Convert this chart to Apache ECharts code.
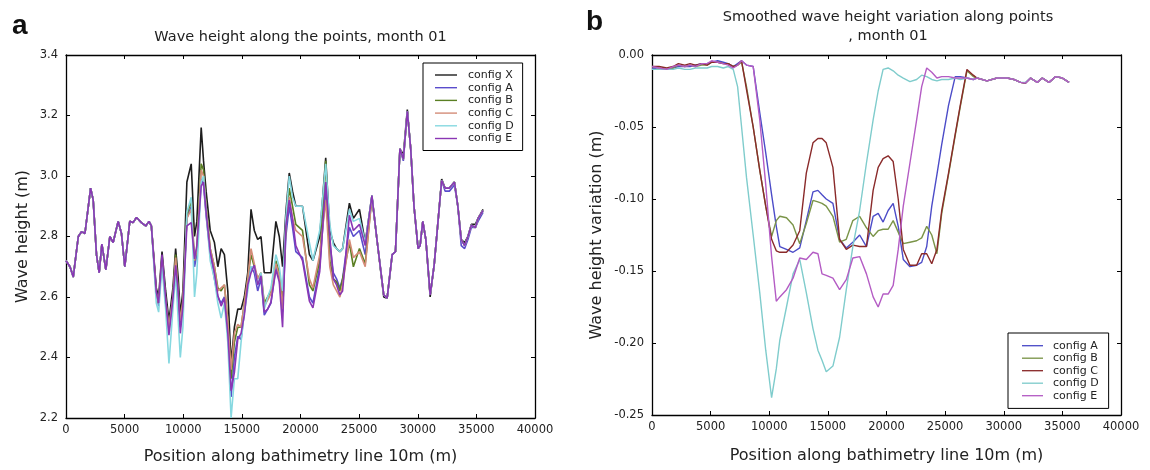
<!DOCTYPE html>
<html>
<head>
<meta charset="utf-8">
<script src="https://cdn.jsdelivr.net/npm/echarts@6/dist/echarts.min.js"></script>
<style>
html,body{margin:0;padding:0;background:#fff;}
#chart{width:1150px;height:470px;}
</style>
</head>
<body>
<div id="chart"></div>
<script>
// ---------- Panel a data ----------
const seriesNames = ['config X','config A','config B','config C','config D','config E'];
const posA = [0,340,620,1050,1330,1615,2100,2320,2600,2830,3060,3400,3740,4020,4450,4730,5015,5440,5720,6010,6430,6800,7080,7280,
7700,7900,8190,8500,8780,9120,9350,9575,9750,9970,10310,10680,10960,11160,11530,11730,11950,12300,12660,12950,13230,13510,13800,14080,14360,14650,14930,15210,15500,15780,16060,16350,16630,16910,17200,17480,17900,18190,18470,18750,19040,19320,19600,20170,
20760,21060,21640,22150,22500,22800,23075,23360,23590,24170,24510,25030,25520,26090,26520,27100,27390,27820,28100,28480,28770,29110,29400,29680,30030,30200,30430,30690,31060,31400,31700,32040,32330,32700,33130,33420,33710,34000,34280,34570,34920,35140,35570];

const aX = [2.72,2.70,2.67,2.80,2.816,2.81,2.96,2.92,2.74,2.68,2.775,2.69,2.80,2.78,2.85,2.81,2.70,2.85,2.846,2.863,2.846,2.835,2.85,2.835,
2.63,2.60,2.75,2.62,2.52,2.63,2.76,2.66,2.54,2.62,2.98,3.04,2.80,2.85,3.16,3.05,2.95,2.82,2.78,2.70,2.76,2.74,2.62,2.38,2.50,2.56,2.56,2.60,2.68,2.89,2.82,2.79,2.80,2.68,2.68,2.68,2.85,2.80,2.70,2.88,3.01,2.95,2.90,2.90,
2.74,2.72,2.80,3.06,2.82,2.78,2.76,2.75,2.76,2.91,2.86,2.89,2.78,2.935,
2.79,2.60,2.596,2.74,2.75,3.09,3.07,3.22,3.09,2.90,2.76,2.77,2.85,2.79,2.60,2.706,2.837,2.99,2.96,2.96,2.98,2.90,2.79,2.78,2.80,2.84,2.84,2.86,2.89];

const aA = [2.72,2.70,2.666,2.80,2.816,2.81,2.96,2.92,2.74,2.68,2.775,2.69,2.80,2.78,2.85,2.81,2.70,2.85,2.846,2.863,2.846,2.835,2.85,2.835,
2.62,2.57,2.73,2.58,2.50,2.60,2.72,2.60,2.50,2.58,2.86,2.90,2.70,2.74,2.99,2.97,2.87,2.74,2.66,2.60,2.58,2.60,2.50,2.27,2.40,2.47,2.46,2.55,2.65,2.70,2.68,2.62,2.66,2.54,2.56,2.58,2.70,2.66,2.55,2.80,2.90,2.83,2.75,2.73,
2.60,2.58,2.70,2.96,2.78,2.68,2.66,2.63,2.66,2.83,2.80,2.82,2.74,2.93,
2.79,2.607,2.596,2.74,2.75,3.09,3.05,3.214,3.09,2.90,2.76,2.77,2.85,2.79,2.607,2.706,2.837,2.985,2.95,2.95,2.97,2.90,2.77,2.76,2.79,2.83,2.83,2.85,2.88];

const aB = [2.72,2.70,2.666,2.80,2.816,2.81,2.96,2.92,2.74,2.68,2.775,2.69,2.80,2.78,2.85,2.81,2.70,2.85,2.846,2.863,2.846,2.835,2.85,2.835,
2.61,2.58,2.73,2.59,2.49,2.60,2.74,2.62,2.51,2.58,2.87,2.92,2.72,2.76,3.04,3.02,2.90,2.76,2.70,2.63,2.62,2.64,2.52,2.33,2.45,2.50,2.50,2.58,2.66,2.74,2.70,2.66,2.68,2.58,2.60,2.62,2.72,2.68,2.58,2.83,2.96,2.90,2.84,2.82,
2.64,2.62,2.72,3.05,2.72,2.66,2.65,2.62,2.66,2.78,2.70,2.76,2.71,2.93,
2.79,2.607,2.596,2.74,2.75,3.09,3.056,3.214,3.09,2.90,2.76,2.77,2.85,2.79,2.607,2.706,2.837,2.985,2.96,2.96,2.98,2.90,2.79,2.77,2.80,2.837,2.83,2.86,2.886];

const aC = [2.72,2.70,2.666,2.80,2.816,2.81,2.96,2.92,2.74,2.68,2.775,2.69,2.80,2.78,2.85,2.81,2.70,2.85,2.846,2.863,2.846,2.835,2.85,2.835,
2.61,2.58,2.73,2.59,2.50,2.60,2.73,2.61,2.52,2.59,2.86,2.89,2.72,2.76,3.02,3.00,2.89,2.76,2.70,2.62,2.63,2.64,2.52,2.36,2.48,2.51,2.50,2.58,2.66,2.76,2.71,2.66,2.68,2.57,2.59,2.61,2.71,2.67,2.56,2.84,2.93,2.86,2.82,2.80,
2.66,2.63,2.74,2.92,2.70,2.64,2.62,2.60,2.64,2.79,2.73,2.75,2.70,2.93,
2.79,2.607,2.596,2.74,2.75,3.09,3.056,3.214,3.09,2.90,2.76,2.77,2.85,2.79,2.607,2.706,2.837,2.985,2.96,2.96,2.98,2.90,2.79,2.77,2.80,2.837,2.83,2.86,2.886];

const aD = [2.72,2.70,2.666,2.80,2.816,2.81,2.96,2.92,2.74,2.68,2.775,2.69,2.80,2.78,2.85,2.81,2.70,2.85,2.846,2.863,2.846,2.835,2.85,2.835,
2.58,2.55,2.70,2.56,2.38,2.56,2.68,2.52,2.40,2.50,2.88,2.93,2.60,2.68,2.98,3.00,2.88,2.72,2.66,2.58,2.53,2.58,2.45,2.20,2.33,2.33,2.45,2.55,2.62,2.70,2.70,2.64,2.68,2.56,2.60,2.63,2.74,2.70,2.62,2.86,3.00,2.93,2.90,2.90,
2.78,2.72,2.82,3.04,2.84,2.77,2.76,2.75,2.76,2.89,2.85,2.86,2.78,2.935,
2.79,2.607,2.596,2.74,2.75,3.09,3.056,3.214,3.09,2.90,2.76,2.77,2.85,2.79,2.607,2.706,2.837,2.985,2.96,2.96,2.98,2.90,2.79,2.77,2.80,2.837,2.83,2.86,2.886];

const aE = [2.72,2.70,2.666,2.80,2.816,2.81,2.96,2.92,2.74,2.68,2.775,2.69,2.80,2.78,2.85,2.81,2.70,2.85,2.846,2.863,2.846,2.835,2.85,2.835,
2.616,2.58,2.74,2.595,2.474,2.595,2.705,2.616,2.48,2.57,2.835,2.846,2.726,2.77,2.967,2.98,2.88,2.75,2.68,2.605,2.57,2.595,2.48,2.29,2.35,2.46,2.48,2.54,2.64,2.68,2.705,2.64,2.67,2.55,2.56,2.583,2.69,2.65,2.50,2.835,2.92,2.857,2.77,2.72,
2.586,2.564,2.684,2.98,2.80,2.66,2.64,2.607,2.62,2.87,2.82,2.84,2.77,2.935,
2.79,2.607,2.596,2.74,2.75,3.09,3.056,3.214,3.09,2.90,2.76,2.77,2.85,2.79,2.607,2.706,2.837,2.985,2.96,2.96,2.98,2.90,2.79,2.77,2.80,2.837,2.83,2.86,2.886];

// ---------- Panel b data ----------
const posB = [0,600,1260,1800,2250,2800,3250,3700,4240,4700,
5090,5600,6080,6500,6930,7300,7640,8060,8630,9190,
9700,10200,10600,10900,11470,12030,12600,13160,13730,14150,
14500,14860,15430,16000,16570,17130,17710,18290,18860,19290,
19710,20140,20570,21000,21430,22000,22570,23000,23430,23860,
24300,24710,25290,25860,26290,26860,27400,27710,28570,29430,
30290,30860,31430,31860,32290,32860,33290,33860,34430,35000,
35570];

const bA = [-0.009,-0.010,-0.010,-0.009,-0.008,-0.008,-0.008,-0.007,-0.006,-0.006,
-0.005,-0.004,-0.005,-0.006,-0.008,-0.006,-0.004,-0.007,-0.008,-0.040,
-0.068,-0.097,-0.119,-0.133,-0.135,-0.137,-0.134,-0.115,-0.095,-0.094,
-0.097,-0.100,-0.103,-0.128,-0.134,-0.130,-0.125,-0.133,-0.112,-0.110,
-0.116,-0.108,-0.103,-0.119,-0.142,-0.147,-0.146,-0.144,-0.133,-0.105,
-0.083,-0.062,-0.035,-0.015,-0.015,-0.016,-0.017,-0.016,-0.018,-0.016,
-0.016,-0.017,-0.019,-0.0195,-0.016,-0.019,-0.016,-0.019,-0.015,-0.016,
-0.019];

const bB = [-0.008,-0.009,-0.010,-0.009,-0.007,-0.008,-0.007,-0.008,-0.007,-0.007,
-0.005,-0.005,-0.006,-0.006,-0.008,-0.007,-0.005,-0.022,-0.050,-0.080,
-0.105,-0.126,-0.115,-0.112,-0.113,-0.118,-0.131,-0.117,-0.101,-0.102,
-0.103,-0.105,-0.112,-0.130,-0.128,-0.115,-0.112,-0.120,-0.126,-0.122,
-0.121,-0.121,-0.115,-0.123,-0.131,-0.130,-0.129,-0.127,-0.119,-0.125,
-0.138,-0.110,-0.083,-0.056,-0.036,-0.011,-0.015,-0.016,-0.018,-0.016,
-0.016,-0.017,-0.019,-0.0195,-0.016,-0.019,-0.016,-0.019,-0.015,-0.016,
-0.019];

const bC = [-0.008,-0.008,-0.009,-0.008,-0.006,-0.007,-0.006,-0.007,-0.006,-0.007,
-0.005,-0.005,-0.006,-0.006,-0.008,-0.007,-0.004,-0.024,-0.050,-0.080,
-0.105,-0.128,-0.136,-0.137,-0.137,-0.132,-0.122,-0.082,-0.061,-0.058,
-0.058,-0.061,-0.078,-0.128,-0.135,-0.132,-0.133,-0.133,-0.094,-0.078,
-0.072,-0.070,-0.074,-0.100,-0.135,-0.146,-0.146,-0.138,-0.138,-0.145,
-0.135,-0.108,-0.082,-0.055,-0.035,-0.010,-0.014,-0.016,-0.018,-0.016,
-0.016,-0.017,-0.019,-0.0195,-0.016,-0.019,-0.016,-0.019,-0.015,-0.016,
-0.019];

const bD = [-0.010,-0.010,-0.010,-0.010,-0.009,-0.010,-0.010,-0.009,-0.009,-0.009,
-0.008,-0.008,-0.009,-0.008,-0.010,-0.022,-0.050,-0.085,-0.125,-0.165,
-0.205,-0.238,-0.218,-0.198,-0.175,-0.152,-0.142,-0.165,-0.190,-0.205,
-0.212,-0.220,-0.216,-0.196,-0.163,-0.133,-0.108,-0.075,-0.045,-0.025,
-0.010,-0.009,-0.011,-0.014,-0.016,-0.0185,-0.017,-0.014,-0.015,-0.017,
-0.018,-0.017,-0.017,-0.016,-0.017,-0.016,-0.017,-0.016,-0.018,-0.016,
-0.016,-0.017,-0.019,-0.019,-0.016,-0.019,-0.016,-0.019,-0.015,-0.016,
-0.019];

const bE = [-0.008,-0.009,-0.010,-0.008,-0.007,-0.008,-0.007,-0.008,-0.006,-0.006,
-0.004,-0.005,-0.006,-0.007,-0.009,-0.007,-0.004,-0.007,-0.008,-0.045,
-0.090,-0.140,-0.171,-0.168,-0.163,-0.155,-0.141,-0.142,-0.137,-0.138,
-0.152,-0.153,-0.155,-0.163,-0.156,-0.141,-0.140,-0.152,-0.168,-0.175,
-0.166,-0.166,-0.160,-0.135,-0.105,-0.075,-0.045,-0.022,-0.009,-0.012,
-0.016,-0.015,-0.015,-0.016,-0.016,-0.016,-0.017,-0.016,-0.018,-0.016,
-0.016,-0.017,-0.019,-0.0195,-0.016,-0.019,-0.016,-0.019,-0.015,-0.016,
-0.019];

// tick / axis labels
const xTicks = {min: 0, max: 40000, interval: 5000};
const yTicksA = {min: 2.2, max: 3.4, interval: 0.2};
const yTicksB = {min: -0.25, max: 0, interval: 0.05};

const colorsA = ['#1e1e1e', '#5a4ccc', '#5a7f23', '#d48c78', '#86d8e0', '#8a36b4'];
const colorsB = ['#4c4cc8', '#7a9448', '#8a2a2a', '#7fcccc', '#b45cc4'];

const FONT = 'DejaVu Sans';
const chart = echarts.init(document.getElementById('chart'), null, {renderer: 'canvas'});

function mainX(grid, name, gap) {
  return {
    gridIndex: grid, type: 'value', min: xTicks.min, max: xTicks.max, interval: xTicks.interval,
    name: name, nameLocation: 'middle', nameGap: gap,
    nameTextStyle: {fontFamily: FONT, fontSize: 16, color: '#222'},
    axisLine: {show: true, onZero: false, lineStyle: {color: '#000', width: 1.3}},
    axisTick: {show: true, inside: true, length: 4, lineStyle: {color: '#000'}},
    axisLabel: {fontFamily: FONT, fontSize: 11.5, color: '#222', margin: 6, formatter: v => String(v)},
    splitLine: {show: false}
  };
}
function mirrorX(grid) {
  return {
    gridIndex: grid, type: 'value', position: 'top', min: xTicks.min, max: xTicks.max, interval: xTicks.interval,
    axisLine: {show: true, onZero: false, lineStyle: {color: '#000', width: 1.3}},
    axisTick: {show: true, inside: true, length: 4, lineStyle: {color: '#000'}},
    axisLabel: {show: false}, splitLine: {show: false}
  };
}
function mainY(grid, t, name, gap, dec) {
  return {
    gridIndex: grid, type: 'value', min: t.min, max: t.max, interval: t.interval,
    name: name, nameLocation: 'middle', nameGap: gap,
    nameTextStyle: {fontFamily: FONT, fontSize: 16, color: '#222'},
    axisLine: {show: true, onZero: false, lineStyle: {color: '#000', width: 1.3}},
    axisTick: {show: true, inside: true, length: 4, lineStyle: {color: '#000'}},
    axisLabel: {fontFamily: FONT, fontSize: 11.5, color: '#222', margin: 8,
      formatter: v => v.toFixed(dec)},
    splitLine: {show: false}
  };
}
function mirrorY(grid, t) {
  return {
    gridIndex: grid, type: 'value', position: 'right', min: t.min, max: t.max, interval: t.interval,
    axisLine: {show: true, onZero: false, lineStyle: {color: '#000', width: 1.3}},
    axisTick: {show: true, inside: true, length: 4, lineStyle: {color: '#000'}},
    axisLabel: {show: false}, splitLine: {show: false}
  };
}

function mk(name, xs, ys, color, xi, yi, w) {
  return {
    name: name, type: 'line', xAxisIndex: xi, yAxisIndex: yi,
    data: xs.map((x, i) => [x, ys[i]]),
    symbol: 'none', showSymbol: false, smooth: false,
    lineStyle: {color: color, width: w},
    itemStyle: {color: color},
    emphasis: {disabled: true}, silent: true
  };
}

const seriesA = [aX, aA, aB, aC, aD, aE];
const seriesB = [bA, bB, bC, bD, bE];

const series = [];
seriesA.forEach((ys, i) => series.push(mk(seriesNames[i], posA, ys, colorsA[i], 0, 0, 1.6)));
seriesB.forEach((ys, i) => series.push(mk(seriesNames[i + 1], posB, ys, colorsB[i], 2, 2, 1.4)));

const LEG_ICON = 'path://M0,0H22V1.4H0Z';

const option = {
  animation: false,
  backgroundColor: '#fff',
  grid: [
    {left: 66, top: 55, width: 469, height: 365, show: false},
    {left: 652, top: 55, width: 469, height: 360, show: false}
  ],
  xAxis: [
    mainX(0, 'Position along bathimetry line 10m (m)', 31),
    mirrorX(0),
    mainX(1, 'Position along bathimetry line 10m (m)', 33),
    mirrorX(1)
  ],
  yAxis: [
    mainY(0, yTicksA, 'Wave height (m)', 35, 1),
    mirrorY(0, yTicksA),
    mainY(1, yTicksB, 'Wave height variation (m)', 47, 2),
    mirrorY(1, yTicksB)
  ],
  legend: [
    {
      orient: 'vertical', left: 423, top: 63,
      padding: [6.5, 9, 6.5, 12],
      borderColor: '#000', borderWidth: 1, backgroundColor: '#fff',
      itemWidth: 22, itemHeight: 10, itemGap: 1.7,
      icon: LEG_ICON, selectedMode: false,
      textStyle: {fontFamily: FONT, fontSize: 11, lineHeight: 11, color: '#222', padding: [0, 0, 0, 6]},
      data: seriesNames.map((n, i) => ({name: n, itemStyle: {color: colorsA[i]}}))
    },
    {
      orient: 'vertical', left: 1008, top: 333,
      padding: [7.2, 10, 7.2, 14],
      borderColor: '#000', borderWidth: 1, backgroundColor: '#fff',
      itemWidth: 21, itemHeight: 10, itemGap: 1.5,
      icon: LEG_ICON, selectedMode: false,
      textStyle: {fontFamily: FONT, fontSize: 11, lineHeight: 11, color: '#222', padding: [0, 0, 0, 5]},
      data: seriesNames.slice(1).map((n, i) => ({name: n, itemStyle: {color: colorsB[i]}}))
    }
  ],
  graphic: [
    {type: 'text', left: 12, top: 12, style: {text: 'a', font: 'bold 28px "Liberation Sans"', fill: '#111'}},
    {type: 'text', left: 586, top: 8, style: {text: 'b', font: 'bold 28px "Liberation Sans"', fill: '#111'}},
    {type: 'text', x: 300.5, y: 37, style: {text: 'Wave height along the points, month 01', font: '14.5px "DejaVu Sans"', fill: '#222', textAlign: 'center', textVerticalAlign: 'middle'}},
    {type: 'text', x: 888, y: 17, style: {text: 'Smoothed wave height variation along points', font: '14.5px "DejaVu Sans"', fill: '#222', textAlign: 'center', textVerticalAlign: 'middle'}},
    {type: 'text', x: 888, y: 36, style: {text: ', month 01', font: '14.5px "DejaVu Sans"', fill: '#222', textAlign: 'center', textVerticalAlign: 'middle'}}
  ],
  series: series
};
chart.setOption(option);
</script>
</body>
</html>
